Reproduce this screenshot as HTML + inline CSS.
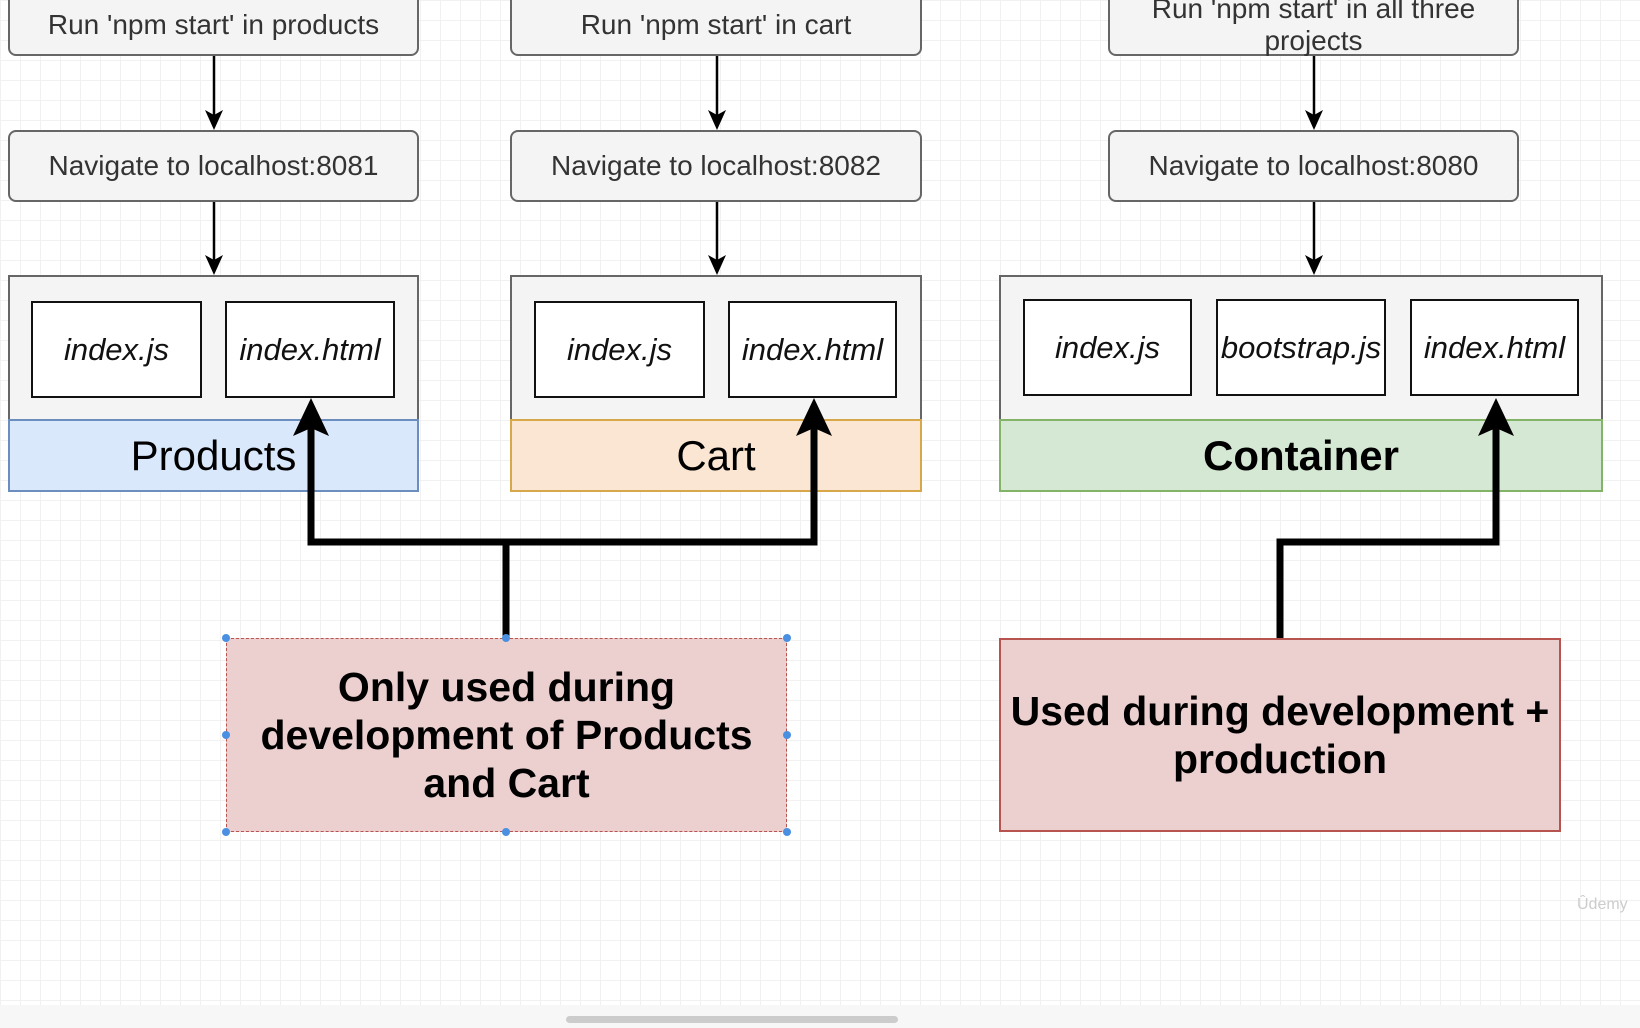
<!DOCTYPE html>
<html><head><style>
body{margin:0;width:1640px;height:1028px;overflow:hidden;background:#fff;font-family:"Liberation Sans",sans-serif;position:relative;
background-image:linear-gradient(#f1f1f1 1px,transparent 1px),linear-gradient(90deg,#f1f1f1 1px,transparent 1px);background-size:20px 20px;}
.b{position:absolute;box-sizing:border-box;display:flex;align-items:center;justify-content:center;text-align:center}
.r{background:#f4f4f4;border:2px solid #666;border-radius:8px;font-size:28px;color:#333;line-height:32px}
.g{background:#f4f4f4;border:2px solid #666}
.i{background:#fff;border:2.5px solid #111;font-style:italic;font-size:31px;color:#111}
.p{background:#eccfcf;border:2px solid #b85450;font-weight:bold;font-size:41px;line-height:48px;color:#000}
</style></head><body>
<div class="b r" style="left:8px;top:-12px;width:411px;height:68px;padding-top:6px">Run 'npm start' in products</div>
<div class="b r" style="left:510px;top:-12px;width:412px;height:68px;padding-top:6px">Run 'npm start' in cart</div>
<div class="b r" style="left:1108px;top:-12px;width:411px;height:68px;padding-top:6px">Run 'npm start' in all three projects</div>
<div class="b r" style="left:8px;top:130px;width:411px;height:72px">Navigate to localhost:8081</div>
<div class="b r" style="left:510px;top:130px;width:412px;height:72px">Navigate to localhost:8082</div>
<div class="b r" style="left:1108px;top:130px;width:411px;height:72px">Navigate to localhost:8080</div>

<div class="b g" style="left:8px;top:275px;width:411px;height:146px"></div>
<div class="b" style="left:8px;top:419px;width:411px;height:73px;background:#dae8fc;border:2px solid #6c8ebf;font-size:42px">Products</div>
<div class="b g" style="left:510px;top:275px;width:412px;height:146px"></div>
<div class="b" style="left:510px;top:419px;width:412px;height:73px;background:#fae6d2;border:2px solid #d6a84a;font-size:42px">Cart</div>
<div class="b g" style="left:999px;top:275px;width:604px;height:146px"></div>
<div class="b" style="left:999px;top:419px;width:604px;height:73px;background:#d5e8d4;border:2px solid #82b366;font-size:42px;font-weight:bold">Container</div>

<div class="b i" style="left:31px;top:301px;width:171px;height:97px">index.js</div>
<div class="b i" style="left:225px;top:301px;width:170px;height:97px">index.html</div>
<div class="b i" style="left:534px;top:301px;width:171px;height:97px">index.js</div>
<div class="b i" style="left:728px;top:301px;width:169px;height:97px">index.html</div>
<div class="b i" style="left:1023px;top:299px;width:169px;height:97px">index.js</div>
<div class="b i" style="left:1216px;top:299px;width:170px;height:97px">bootstrap.js</div>
<div class="b i" style="left:1410px;top:299px;width:169px;height:97px">index.html</div>

<div class="b p" style="left:226px;top:638px;width:561px;height:194px;border:1.5px dashed #b85450">Only used during<br>development of Products<br>and Cart</div>
<div class="b p" style="left:999px;top:638px;width:562px;height:194px">Used during development +<br>production</div>

<svg width="1640" height="1028" style="position:absolute;left:0;top:0">
<g stroke="#000" stroke-width="2.5" fill="none">
<path d="M214 56V116M214 202V261M717 56V116M717 202V261M1314 56V116M1314 202V261"/>
</g>
<g fill="#000">
<path d="M205 110L214 130L223 110L214 115Z"/><path d="M205 255L214 275L223 255L214 260Z"/>
<path d="M708 110L717 130L726 110L717 115Z"/><path d="M708 255L717 275L726 255L717 260Z"/>
<path d="M1305 110L1314 130L1323 110L1314 115Z"/><path d="M1305 255L1314 275L1323 255L1314 260Z"/>
</g>
<g stroke="#000" stroke-width="7" fill="none">
<path d="M506 638V542H311V425M506 542H814V425"/>
<path d="M1280 638V542H1496V425"/>
</g>
<g fill="#000">
<path d="M293 436L311 398L329 436L311 428Z"/><path d="M796 436L814 398L832 436L814 428Z"/><path d="M1478 436L1496 398L1514 436L1496 428Z"/>
</g>
<g fill="#4a90e2"><circle cx="226" cy="638" r="4"/><circle cx="506" cy="638" r="4"/><circle cx="787" cy="638" r="4"/><circle cx="226" cy="735" r="4"/><circle cx="787" cy="735" r="4"/><circle cx="226" cy="832" r="4"/><circle cx="506" cy="832" r="4"/><circle cx="787" cy="832" r="4"/></g>
</svg>
<div style="position:absolute;left:0;top:1005px;width:1640px;height:23px;background:#f7f7f7"></div>
<div style="position:absolute;left:566px;top:1016px;width:332px;height:7px;border-radius:4px;background:#ccc"></div>
<div style="position:absolute;left:1577px;top:896px;font-size:16px;color:#ccc">Ûdemy</div>
</body></html>
